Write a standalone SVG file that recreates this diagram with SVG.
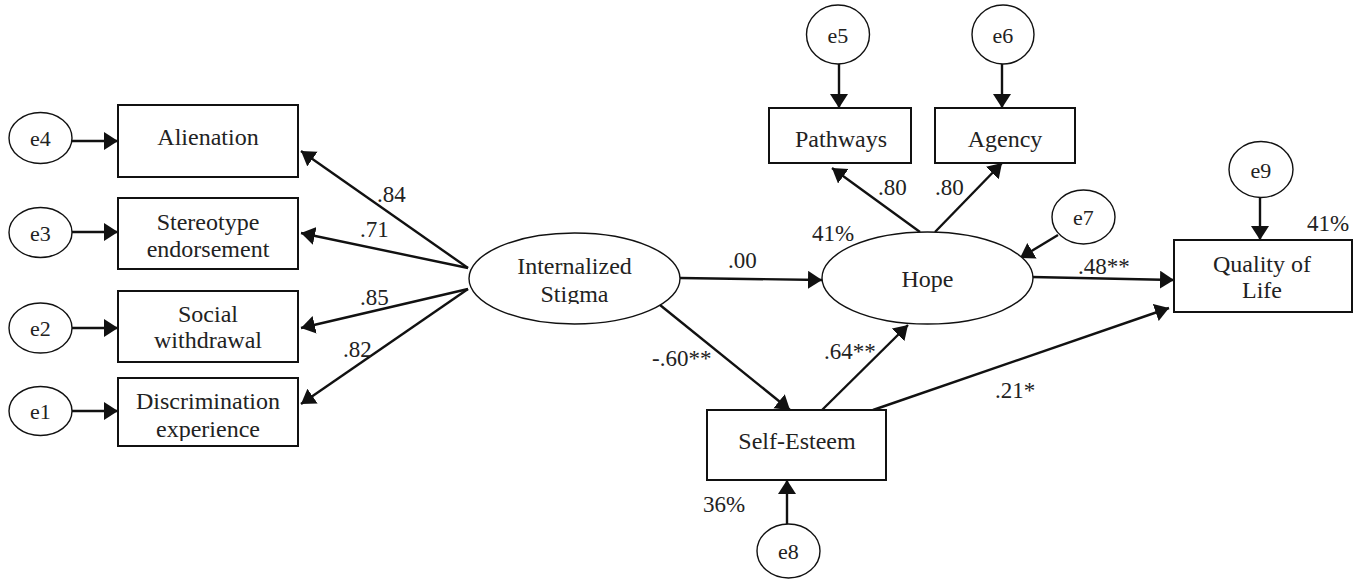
<svg xmlns="http://www.w3.org/2000/svg" width="1363" height="580" viewBox="0 0 1363 580">
<style>
.bg{fill:#fff}
.box{fill:#fff;stroke:#111;stroke-width:2}
.oval{fill:#fff;stroke:#111;stroke-width:1.4}
.t{font-family:"Liberation Serif","Times New Roman",serif;font-size:24px;fill:#222;text-anchor:middle}
.e{font-family:"Liberation Serif","Times New Roman",serif;font-size:22px;fill:#222;text-anchor:middle}
.l{font-family:"Liberation Serif","Times New Roman",serif;font-size:23px;fill:#222}
.c{stroke:#111;stroke-width:2.4;fill:none;marker-end:url(#ah)}
</style>
<defs>
<marker id="ah" markerUnits="userSpaceOnUse" markerWidth="16" markerHeight="20" refX="14" refY="9" orient="auto">
<path d="M0,0 L14,9 L0,18 z" fill="#111"/>
</marker>
<clipPath id="clipStigma"><rect x="480" y="240" width="200" height="64"/></clipPath>
<clipPath id="clipExp"><rect x="118" y="378" width="180" height="63"/></clipPath>
</defs>
<rect class="bg" x="0" y="0" width="1363" height="580"/>

<g id="connectors">
<line class="c" x1="72" y1="141" x2="118" y2="141"/>
<line class="c" x1="72" y1="232" x2="118" y2="232"/>
<line class="c" x1="72" y1="328" x2="118" y2="328"/>
<line class="c" x1="72" y1="411" x2="118" y2="411"/>
<line class="c" x1="468" y1="268" x2="301" y2="151"/>
<line class="c" x1="468" y1="268" x2="301" y2="233"/>
<line class="c" x1="468" y1="289" x2="301" y2="328"/>
<line class="c" x1="468" y1="289" x2="301" y2="404"/>
<line class="c" x1="680" y1="278" x2="822" y2="280"/>
<line class="c" x1="660" y1="305" x2="790" y2="410"/>
<line class="c" x1="822" y1="410" x2="908" y2="325"/>
<line class="c" x1="873" y1="410" x2="1169" y2="308"/>
<line class="c" x1="1032" y1="277" x2="1174" y2="280"/>
<line class="c" x1="920" y1="232" x2="832" y2="168"/>
<line class="c" x1="935" y1="232" x2="1002" y2="163"/>
<line class="c" x1="839" y1="64" x2="839" y2="108"/>
<line class="c" x1="1002" y1="64" x2="1002" y2="108"/>
<line class="c" x1="1058" y1="235" x2="1020" y2="258"/>
<line class="c" x1="1260" y1="197" x2="1260" y2="240"/>
<line class="c" x1="787" y1="524" x2="787" y2="480"/>
<text class="l" x="377" y="202">.84</text>
<text class="l" x="360" y="237">.71</text>
<text class="l" x="360" y="305">.85</text>
<text class="l" x="343" y="357">.82</text>
<text class="l" x="728" y="268">.00</text>
<text class="l" x="652" y="366">-.60**</text>
<text class="l" x="824" y="359">.64**</text>
<text class="l" x="995" y="398">.21*</text>
<text class="l" x="1078" y="274">.48**</text>
<text class="l" x="878" y="195">.80</text>
<text class="l" x="935" y="195">.80</text>
<text class="l" x="812" y="241">41%</text>
<text class="l" x="1307" y="231">41%</text>
<text class="l" x="703" y="512">36%</text>
</g>

<g id="e4"><ellipse class="oval" cx="40.5" cy="138" rx="31.5" ry="25.5"/><text class="e" x="40.5" y="146">e4</text></g>
<g id="e3"><ellipse class="oval" cx="40.5" cy="232.5" rx="31.5" ry="25"/><text class="e" x="40.5" y="240.5">e3</text></g>
<g id="e2"><ellipse class="oval" cx="40.5" cy="328" rx="31.5" ry="25"/><text class="e" x="40.5" y="336">e2</text></g>
<g id="e1"><ellipse class="oval" cx="40.5" cy="411" rx="31.5" ry="24.5"/><text class="e" x="40.5" y="419">e1</text></g>

<g id="alienation"><rect class="box" x="118" y="105" width="180" height="72"/><text class="t" x="208" y="145">Alienation</text></g>
<g id="stereotype"><rect class="box" x="118" y="198" width="180" height="71"/><text class="t" x="208" y="230">Stereotype</text><text class="t" x="208" y="257">endorsement</text></g>
<g id="social"><rect class="box" x="118" y="291" width="180" height="71"/><text class="t" x="208" y="322">Social</text><text class="t" x="208" y="348">withdrawal</text></g>
<g id="discrimination"><rect class="box" x="118" y="378" width="180" height="68"/><text class="t" x="208" y="409">Discrimination</text><text class="t" x="208" y="437" clip-path="url(#clipExp)">experience</text></g>

<g id="internalized"><ellipse class="oval" cx="574.5" cy="278.5" rx="105.5" ry="45.5"/><text class="t" x="574.5" y="274">Internalized</text><text class="t" x="574.5" y="302" clip-path="url(#clipStigma)">Stigma</text></g>

<g id="hope"><ellipse class="oval" cx="927.5" cy="278" rx="105.5" ry="46"/><text class="t" x="927.5" y="287">Hope</text></g>

<g id="e5"><ellipse class="oval" cx="838" cy="34.5" rx="31.5" ry="29.5"/><text class="e" x="838" y="43">e5</text></g>
<g id="e6"><ellipse class="oval" cx="1003" cy="34.5" rx="31" ry="29.5"/><text class="e" x="1003" y="43">e6</text></g>
<g id="pathways"><rect class="box" x="769" y="108" width="142" height="55"/><text class="t" x="841" y="147">Pathways</text></g>
<g id="agency"><rect class="box" x="935" y="108" width="140" height="55"/><text class="t" x="1005" y="147">Agency</text></g>
<g id="e7"><ellipse class="oval" cx="1083.5" cy="217" rx="31.5" ry="27"/><text class="e" x="1083.5" y="225">e7</text></g>
<g id="e9"><ellipse class="oval" cx="1261" cy="169.5" rx="32" ry="28"/><text class="e" x="1261" y="177.5">e9</text></g>
<g id="quality"><rect class="box" x="1174" y="240" width="178" height="72"/><text class="t" x="1262" y="272">Quality of</text><text class="t" x="1262" y="298">Life</text></g>

<g id="selfesteem"><rect class="box" x="707" y="410" width="179" height="70"/><text class="t" x="797" y="449">Self-Esteem</text></g>
<g id="e8"><ellipse class="oval" cx="788.5" cy="551" rx="31.5" ry="27"/><text class="e" x="788.5" y="559">e8</text></g>
</svg>
